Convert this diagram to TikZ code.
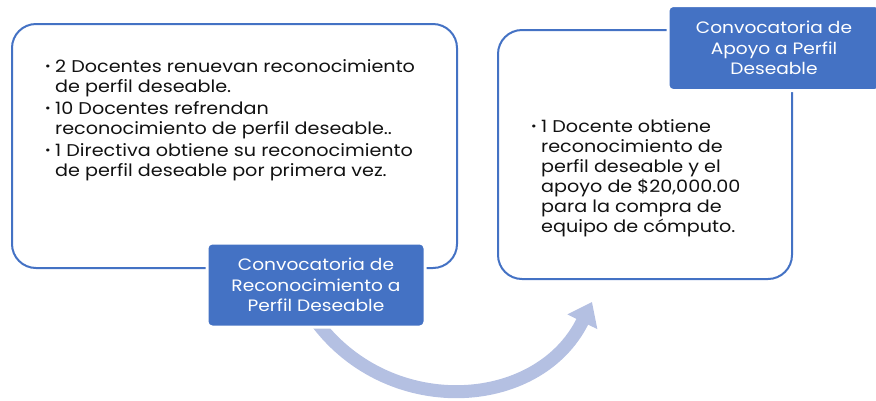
\documentclass[tikz,border=0pt]{standalone}
\usepackage{fontspec}
\setmainfont{Poppins}[FakeStretch=1.127]
\usetikzlibrary{arrows.meta}
\definecolor{mblue}{HTML}{4472C4}
\definecolor{marrow}{HTML}{B4C0E2}
\definecolor{mtext}{HTML}{111111}
\newcommand\mybul{\makebox[10pt][l]{\raisebox{0.12em}{\fontsize{12}{12}\selectfont\textbullet}}}
\tikzset{
  outerbox/.style={draw=mblue, line width=2pt, rounded corners=24pt, inner sep=0pt},
  labelbox/.style={fill=mblue, draw=white, line width=3pt, rounded corners=5pt, inner sep=0pt,
     text=white, align=center, font=\fontsize{16.5}{20.5}\selectfont},
  bodytext/.style={inner sep=0pt, anchor=north west, text=mtext, font=\fontsize{17}{20}\selectfont},
  bigarrow/.style={draw=marrow, line width=13pt, -{Triangle[width=32pt,length=22pt]}}
}
\begin{document}
\begin{tikzpicture}[x=1pt,y=-1pt]
\useasboundingbox (0,0) rectangle (876,400);
\clip (0,0) rectangle (876,400);
% outer boxes
\node[outerbox, minimum width=445pt, minimum height=244pt] (b1) at (234.5,146) {};
\node[outerbox, minimum width=294pt, minimum height=249pt] (b2) at (645,154.5) {};
% texts
\node[bodytext] (t1) at (45,58) {\begin{tabular}{@{}l@{}l@{}}
\mybul & 2 Docentes renuevan reconocimiento\\
 & de perfil deseable.\\[2pt]
\mybul & 10 Docentes refrendan\\
 & reconocimiento de perfil deseable..\\[2pt]
\mybul & 1 Directiva obtiene su reconocimiento\\
 & de perfil deseable por primera vez.
\end{tabular}};
\node[bodytext] (t2) at (531,118) {\begin{tabular}{@{}l@{}l@{}}
\mybul & 1 Docente obtiene\\
 & reconocimiento de\\
 & perfil deseable y el\\
 & apoyo de \$20,000.00\\
 & para la compra de\\
 & equipo de cómputo.
\end{tabular}};
% arrow
\coordinate (tip) at (592,302);
\coordinate (st) at (313,317);
\draw[bigarrow] (st) .. controls (385,420) and (538,412) .. (tip);
% labels
\node[labelbox, minimum width=218pt, minimum height=84pt] (l1) at (316,285)
  {Convocatoria de\\Reconocimiento a\\Perfil Deseable};
\node[labelbox, minimum width=212pt, minimum height=85pt] (l2) at (774,48)
  {Convocatoria de\\Apoyo a Perfil\\Deseable};
\end{tikzpicture}
\end{document}
